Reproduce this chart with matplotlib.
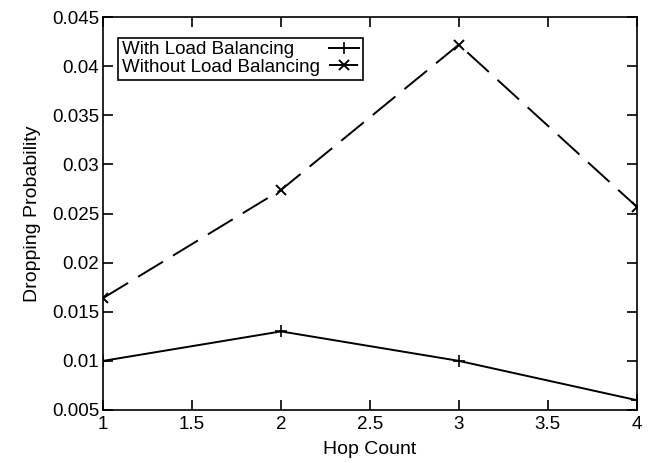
import matplotlib
matplotlib.use("Agg")
import matplotlib.pyplot as plt
from matplotlib.ticker import FuncFormatter

plt.rcParams["font.family"] = ["Liberation Sans", "DejaVu Sans"]

# data
hop_count = [1, 2, 3, 4]
with_lb = [0.010, 0.013, 0.010, 0.006]
without_lb = [0.0164, 0.0274, 0.0422, 0.0257]

x_ticks = [1, 1.5, 2, 2.5, 3, 3.5, 4]
y_ticks = [0.005, 0.01, 0.015, 0.02, 0.025, 0.03, 0.035, 0.04, 0.045]

fig = plt.figure(figsize=(6.53, 4.63), dpi=100)
ax = fig.add_axes([0.158, 0.1145, 0.817, 0.8485])

ax.plot(hop_count, with_lb, color="black", linewidth=1.4,
        marker="+", markersize=8, markeredgewidth=1.2,
        label="With Load Balancing")
ax.plot(hop_count, without_lb, color="black", linewidth=1.4,
        linestyle=(0, (15, 6)),
        marker="x", markersize=7, markeredgewidth=1.4,
        label="Without Load Balancing")

ax.set_xlim(1, 4)
ax.set_ylim(0.005, 0.045)
ax.set_xticks(x_ticks)
ax.set_yticks(y_ticks)
fmt = FuncFormatter(lambda v, p: "%g" % v)
ax.xaxis.set_major_formatter(fmt)
ax.yaxis.set_major_formatter(fmt)

ax.tick_params(direction="in", length=7, width=1.2, top=True, right=True,
               labelsize=13.5)
ax.tick_params(axis="x", pad=4)
ax.tick_params(axis="y", pad=3)
for s in ax.spines.values():
    s.set_linewidth(1.2)

ax.set_xlabel("Hop Count", fontsize=14, labelpad=6)
ax.set_ylabel("Dropping Probability", fontsize=14, labelpad=8)

leg = ax.legend(loc="upper left", bbox_to_anchor=(0.028, 0.948),
                markerfirst=False, fontsize=13.5, frameon=True,
                fancybox=False, edgecolor="black", framealpha=1,
                handlelength=1.6, handletextpad=0.5, borderpad=0.2,
                labelspacing=0.02, borderaxespad=0)
leg.get_frame().set_linewidth(1.2)

# left-align the labels, keep the line samples flush right (gnuplot style key)
fig.canvas.draw()
renderer = fig.canvas.get_renderer()
rows = []
for col in leg._legend_handle_box.get_children():
    rows.extend(col.get_children())
row_w = max(r.get_bbox(renderer).width for r in rows)
for r in rows:
    r.mode = "expand"
    r.width = row_w

fig.savefig("out.png", dpi=100)
